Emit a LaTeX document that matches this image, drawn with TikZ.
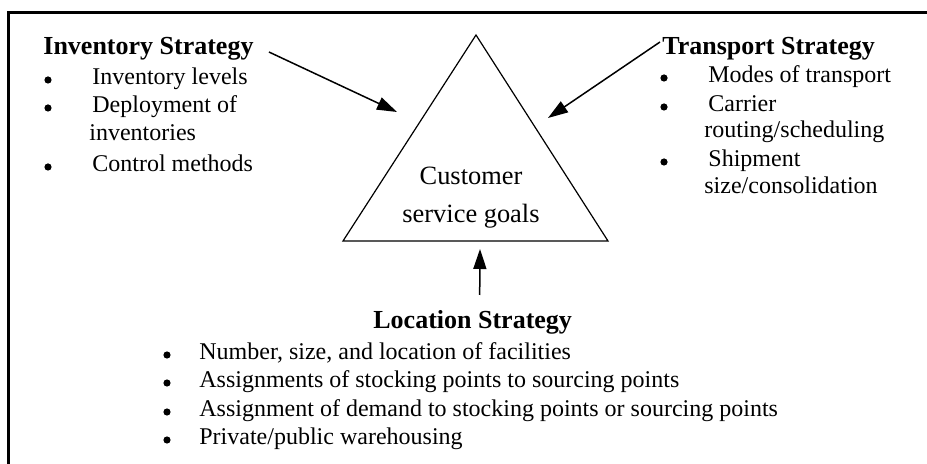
\documentclass[tikz,border=0pt]{standalone}
\usepackage{fontspec}
\setmainfont{Liberation Serif}
\usetikzlibrary{arrows.meta}
\begin{document}
\begin{tikzpicture}[x=0.5pt,y=-0.5pt,
  head/.style={font=\fontsize{13}{15}\selectfont\bfseries, anchor=base west, inner sep=0pt},
  item/.style={font=\fontsize{12}{14}\selectfont, anchor=base west, inner sep=0pt},
  bul/.style={circle, fill, inner sep=0pt, minimum size=3.6pt},
  goal/.style={font=\fontsize{13.2}{15}\selectfont, anchor=base, inner sep=0pt},
  arr/.style={line width=0.75pt, -{Triangle[length=10pt,width=6.5pt]}}]
\useasboundingbox (0,0) rectangle (927,464);
\draw[line width=1.5pt] (927,13) -- (8,13) -- (8,464);
% triangle
\draw[line width=0.6pt, line join=miter] (476,35) -- (343,241) -- (608,241) -- cycle;
\node[goal] (g1) at (471,185) {Customer};
\node[goal] (g2) at (471,223) {service goals};
% inventory
\node[head] (inv) at (43,55) {Inventory Strategy};
\node[bul] (ib1) at (48,80) {};
\node[item] (i1) at (92,85) {Inventory levels};
\node[bul] (ib2) at (48,108) {};
\node[item] (i2) at (92,113) {Deployment of};
\node[item] (i2b) at (89,141) {inventories};
\node[bul] (ib3) at (48,167) {};
\node[item] (i3) at (92,172) {Control methods};
% transport
\node[head] (trn) at (662,55) {Transport Strategy};
\node[bul] (tb1) at (664,78) {};
\node[item] (t1) at (708,83) {Modes of transport};
\node[bul] (tb2) at (664,107) {};
\node[item] (t2) at (708,112) {Carrier};
\node[item] (t2b) at (704,138) {routing/scheduling};
\node[bul] (tb3) at (664,162) {};
\node[item] (t3) at (708,167) {Shipment};
\node[item] (t3b) at (704,194) {size/consolidation};
% location
\node[head] (loc) at (373,329) {Location Strategy};
\node[bul] (lb1) at (167,355) {};
\node[item] (l1) at (199,360) {Number, size, and location of facilities};
\node[bul] (lb2) at (167,383) {};
\node[item] (l2) at (199,388) {Assignments of stocking points to sourcing points};
\node[bul] (lb3) at (167,412) {};
\node[item] (l3) at (199,417) {Assignment of demand to stocking points or sourcing points};
\node[bul] (lb4) at (167,440) {};
\node[item] (l4) at (199,445) {Private/public warehousing};
% arrows
\coordinate (invtip) at (397,112);
\coordinate (trntip) at (548,118);
\coordinate (loctip) at (480,249);
\draw[arr] ([shift={(15,-3)}]inv.base east) -- (invtip);
\draw[arr] ([shift={(-2,-13)}]trn.base west) -- (trntip);
\draw[arr] ([shift={(7,-34)}]loc.base) -- (loctip);
\end{tikzpicture}
\end{document}
